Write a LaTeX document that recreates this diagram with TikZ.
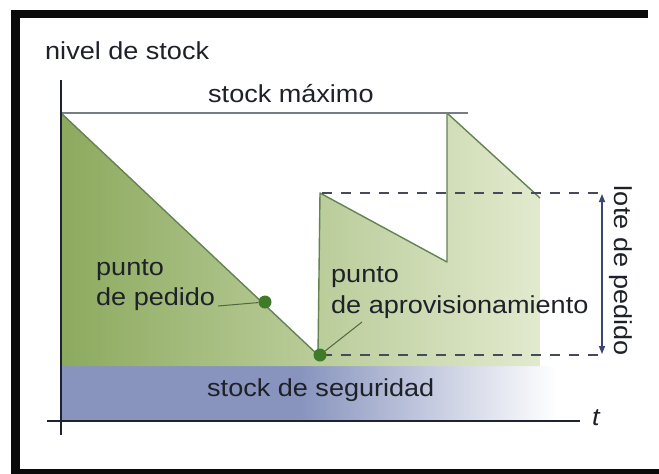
\documentclass[tikz,border=0pt]{standalone}
\usepackage{fontspec}
\setmainfont[FakeStretch=1.1]{Liberation Sans}
\usetikzlibrary{arrows.meta}
\definecolor{frameblack}{RGB}{10,10,10}
\definecolor{greendark}{RGB}{140,170,94}
\definecolor{greenmid}{RGB}{184,204,146}
\definecolor{greenlight}{RGB}{226,234,206}
\definecolor{bandblue}{RGB}{136,148,190}
\definecolor{bandmid}{RGB}{160,170,206}
\definecolor{curveline}{RGB}{100,130,82}
\definecolor{maxline}{RGB}{120,125,132}
\definecolor{axisdark}{RGB}{30,34,50}
\definecolor{dotgreen}{RGB}{62,122,40}
\definecolor{txt}{RGB}{30,33,40}
\definecolor{dashgray}{RGB}{70,75,92}
\definecolor{arrowblue}{RGB}{60,70,110}
\tikzset{
  lbl/.style={font=\fontsize{24.6}{30}\selectfont, text=txt, inner sep=0pt, anchor=base west},
  dotnode/.style={circle, fill=dotgreen, minimum size=13pt, inner sep=0pt},
  curve/.style={draw=curveline, line width=1.4pt, line join=round},
  dashline/.style={draw=dashgray, line width=1.6pt, dash pattern=on 10pt off 9pt},
  axisline/.style={draw=axisdark, line width=2.4pt},
  leader/.style={draw=curveline!80!black, line width=1pt}
}
\begin{document}
\begin{tikzpicture}[x=1pt,y=-1pt]
\useasboundingbox (0,0) rectangle (659,474);
\fill[white] (0,0) rectangle (659,474);
% frame
\fill[frameblack] (11,10) rectangle (648,18);
\fill[frameblack] (11,10) rectangle (20,474);
\fill[frameblack] (11,469) rectangle (659,474);
% safety stock band
\fill[bandblue] (61,366) rectangle (301,420.5);
\shade[left color=bandblue, middle color=bandmid, right color=white] (300,366) rectangle (556,420.5);
% stock area
\shade[left color=greendark, middle color=greenmid, right color=greenlight]
  (61,113) -- (318,355) -- (320,193) -- (447,262) -- (447,113) -- (540,198) -- (540,366) -- (61,366) -- cycle;
% stock curve
\draw[curve] (61,113) -- (318,355) -- (320,193) -- (447,262) -- (447,113) -- (540,198);
% maximum stock line
\draw[draw=maxline, line width=2pt] (61,113) -- (468,113);
% dashed levels
\draw[dashline] (322,193) -- (605,193);
\draw[dashline] (322,355) -- (605,355);
% axes
\draw[axisline] (61,80) -- (61,435);
\draw[axisline] (47,421) -- (580,421);
% dots
\node[dotnode] (pedido) at (265,302) {};
\node[dotnode] (aprov) at (320,355) {};
% lot arrow
\coordinate (lotetop) at (602,194);
\coordinate (lotebot) at (602,354);
\draw[draw=arrowblue, line width=1.4pt, {Triangle[length=8pt,width=6pt]}-{Triangle[length=8pt,width=6pt]}] (lotetop) -- (lotebot);
% texts
\node[lbl] (nivel) at (45,59) {nivel de stock};
\node[lbl] (maximo) at (208,102) {stock máximo};
\node[lbl] (pp1) at (96,275) {punto};
\node[lbl] (pp2) at (96,305) {de pedido};
\node[lbl] (pa1) at (331,282) {punto};
\node[lbl] (pa2) at (331,313) {de aprovisionamiento};
\node[lbl] (seguridad) at (207,396) {stock de seguridad};
\node[lbl, font=\fontsize{24.6}{30}\selectfont\itshape] (tlabel) at (592,425) {t};
\node[font=\fontsize{24.6}{30}\selectfont, text=txt, inner sep=0pt, rotate=-90] (lote) at (621,271) {lote de pedido};
% leaders
\coordinate (pp2end) at (218,306);
\coordinate (pa2end) at (362,322);
\draw[leader] (pp2end) -- (pedido);
\draw[leader] (pa2end) -- (aprov);
\end{tikzpicture}
\end{document}
